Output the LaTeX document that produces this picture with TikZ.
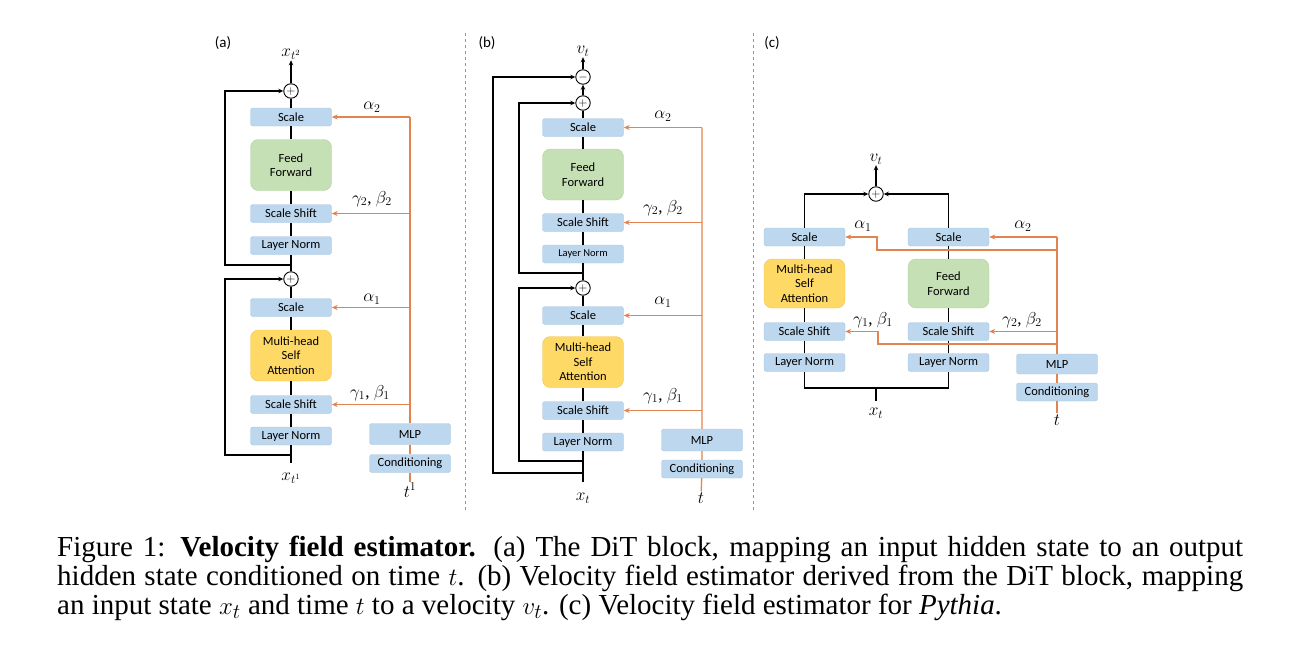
\documentclass[tikz,border=0pt]{standalone}
\usepackage{fontspec}
\setmainfont{Liberation Serif}
\setsansfont{Carlito}
\usetikzlibrary{arrows.meta}

\definecolor{boxfill}{HTML}{BDD7EE}
\definecolor{boxline}{HTML}{A6C4E0}
\definecolor{fffill}{HTML}{C5E0B4}
\definecolor{ffline}{HTML}{B2D29C}
\definecolor{safill}{HTML}{FFD966}
\definecolor{saline}{HTML}{F0C44C}
\definecolor{condline}{RGB}{226,132,80}
\definecolor{sepline}{RGB}{150,150,150}

\newcommand{\boxfont}{\sffamily\fontsize{12.5}{14.5}\selectfont}
\newcommand{\labfont}{\fontsize{17}{19}\selectfont}
\newcommand{\capfont}{\fontsize{29}{29}\selectfont}

\begin{document}
\begin{tikzpicture}
	[x=1pt,y=-1pt,
	box/.style={draw=boxline, fill=boxfill, rounded corners=2.5pt, minimum width=81pt, minimum height=18pt, inner sep=0pt, font=\boxfont},
	bigbox/.style={box, minimum height=51pt, rounded corners=8pt, align=center},
	ffbox/.style={bigbox, fill=fffill, draw=ffline},
	sabox/.style={bigbox, fill=safill, draw=saline},
	sumnode/.style={circle, draw, fill=white, line width=0.9pt, minimum size=14.5pt, inner sep=0pt, font=\fontsize{13}{13}\selectfont},
	lab/.style={font=\labfont, inner sep=1pt},
	panel/.style={font=\sffamily\fontsize{15}{17}\selectfont, inner sep=0pt},
	flow/.style={draw, line width=1.2pt},
	res/.style={draw, line width=1.2pt, -{Stealth[length=5pt,width=4.5pt]}},
	cond/.style={draw=condline, line width=1.3pt, -{Stealth[length=6pt,width=5pt]}},
	condline/.style={draw=condline, line width=1.3pt}]
	\useasboundingbox (0,0) rectangle (1300,661);
	
	% separators
	\draw[sepline, dashed] (465,33) -- (465,510);
	\draw[sepline, dashed] (753,33) -- (753,510);
	
	% (a) DiT block
	\node[panel] (a-lbl) at (223,43) {(a)};
	\node[lab] (a-out) at (291,54) {$x_{t^2}$};
	\node[sumnode] (a-add2) at (291,91) {$+$};
	\node[box] (a-scale2) at (291,117) {Scale};
	\node[ffbox] (a-ff) at (291,165) {Feed\\Forward};
	\node[box] (a-ss2) at (291,213.5) {Scale Shift};
	\node[box] (a-ln2) at (291,245.5) {Layer Norm};
	\node[sumnode] (a-add1) at (291,279) {$+$};
	\node[box] (a-scale1) at (291,307.5) {Scale};
	\node[sabox] (a-sa) at (291,355.5) {Multi-head\\Self\\Attention};
	\node[box] (a-ss1) at (291,404.5) {Scale Shift};
	\node[box] (a-ln1) at (291,436) {Layer Norm};
	\coordinate (a-bot) at (291,463);
	\coordinate (a-br1) at (291,455);
	\coordinate (a-br2) at (291,265);
	\node[lab] (a-in) at (291,478) {$x_{t^1}$};
	\node[box, minimum height=21pt] (a-mlp) at (410,434) {MLP};
	\node[box] (a-cond) at (410,463.5) {Conditioning};
	\node[lab] (a-t) at (410,490) {$t^1$};
	\coordinate (a-c2) at (410,117);
	\coordinate (a-c4) at (410,213.5);
	\coordinate (a-c1) at (410,307.5);
	\coordinate (a-c3) at (410,404.5);
	\node[lab] (a-alpha2) at (372,107) {$\alpha_2$};
	\node[lab] (a-gb2) at (372,199) {$\gamma_2$, $\beta_2$};
	\node[lab] (a-alpha1) at (372,299) {$\alpha_1$};
	\node[lab] (a-gb1) at (370,393) {$\gamma_1$, $\beta_1$};
	
	\foreach \from/\to in {a-bot/a-ln1,a-ln1/a-ss1,a-ss1/a-sa,a-sa/a-scale1,a-scale1/a-add1,a-add1/a-ln2,a-ln2/a-ss2,a-ss2/a-ff,a-ff/a-scale2,a-scale2/a-add2}
	\draw[flow] (\from) -- (\to);
	\draw[res] (a-add2) -- (a-out);
	\draw[res] (a-br1) -- ++(-66,0) |- (a-add1);
	\draw[res] (a-br2) -- ++(-66,0) |- (a-add2);
	\draw[condline] (a-t) -- (a-cond) -- (a-mlp) -- (a-c2);
	\foreach \from/\to in {a-c2/a-scale2,a-c4/a-ss2,a-c1/a-scale1,a-c3/a-ss1}
	\draw[cond] (\from) -- (\to);
	
	% (b) velocity field estimator from DiT
	\node[panel] (b-lbl) at (487,43) {(b)};
	\node[lab] (b-out) at (583,51) {$v_t$};
	\node[sumnode] (b-sub) at (583,77) {$-$};
	\node[sumnode] (b-add2) at (583,103) {$+$};
	\node[box] (b-scale2) at (583,127.5) {Scale};
	\node[ffbox] (b-ff) at (583,174.5) {Feed\\Forward};
	\node[box] (b-ss2) at (583,222.5) {Scale Shift};
	\node[box, font=\sffamily\fontsize{10.5}{12}\selectfont] (b-ln2) at (583,254) {Layer Norm};
	\node[sumnode] (b-add1) at (583,288) {$+$};
	\node[box] (b-scale1) at (583,315.5) {Scale};
	\node[sabox] (b-sa) at (583,362) {Multi-head\\Self\\Attention};
	\node[box] (b-ss1) at (583,410.5) {Scale Shift};
	\node[box] (b-ln1) at (583,442) {Layer Norm};
	\coordinate (b-bot) at (583,482);
	\coordinate (b-br0) at (583,473);
	\coordinate (b-br1) at (583,461);
	\coordinate (b-br2) at (583,273);
	\node[lab] (b-in) at (583,498) {$x_t$};
	\node[box, minimum height=22pt] (b-mlp) at (702,440) {MLP};
	\node[box] (b-cond) at (702,469) {Conditioning};
	\node[lab] (b-t) at (701,498) {$t$};
	\coordinate (b-c2) at (702,127.5);
	\coordinate (b-c4) at (702,222.5);
	\coordinate (b-c1) at (702,315.5);
	\coordinate (b-c3) at (702,410.5);
	\node[lab] (b-alpha2) at (663,116) {$\alpha_2$};
	\node[lab] (b-gb2) at (663,208) {$\gamma_2$, $\beta_2$};
	\node[lab] (b-alpha1) at (663,302) {$\alpha_1$};
	\node[lab] (b-gb1) at (663,396) {$\gamma_1$, $\beta_1$};
	
	\foreach \from/\to in {b-bot/b-ln1,b-ln1/b-ss1,b-ss1/b-sa,b-sa/b-scale1,b-scale1/b-add1,b-add1/b-ln2,b-ln2/b-ss2,b-ss2/b-ff,b-ff/b-scale2,b-scale2/b-add2}
	\draw[flow] (\from) -- (\to);
	\draw[res] (b-add2) -- (b-sub);
	\draw[res] (b-sub) -- (b-out);
	\draw[res] (b-br0) -- ++(-90,0) |- (b-sub);
	\draw[res] (b-br1) -- ++(-64,0) |- (b-add1);
	\draw[res] (b-br2) -- ++(-64,0) |- (b-add2);
	\draw[condline] (b-t) -- (b-cond) -- (b-mlp) -- (b-c2);
	\foreach \from/\to in {b-c2/b-scale2,b-c4/b-ss2,b-c1/b-scale1,b-c3/b-ss1}
	\draw[cond] (\from) -- (\to);
	
	% (c) velocity field estimator for Pythia
	\node[panel] (c-lbl) at (772,43) {(c)};
	\node[lab] (c-out) at (876,159) {$v_t$};
	\node[sumnode] (c-add) at (876,194) {$+$};
	\node[box] (c-scale1) at (804.5,237) {Scale};
	\node[sabox, minimum height=49pt] (c-sa) at (804.5,283.5) {Multi-head\\Self\\Attention};
	\node[box] (c-ss1) at (804.5,331.5) {Scale Shift};
	\node[box] (c-ln1) at (804.5,362.5) {Layer Norm};
	\node[box] (c-scale2) at (948.5,237) {Scale};
	\node[ffbox, minimum height=49pt] (c-ff) at (948.5,283.5) {Feed\\Forward};
	\node[box] (c-ss2) at (948.5,331.5) {Scale Shift};
	\node[box] (c-ln2) at (948.5,362.5) {Layer Norm};
	\coordinate (c-bl) at (804.5,388);
	\coordinate (c-bm) at (876,388);
	\coordinate (c-br) at (948.5,388);
	\coordinate (c-stem) at (876,401);
	\node[lab] (c-in) at (876,413) {$x_t$};
	\node[box, minimum height=20pt] (c-mlp) at (1057,364) {MLP};
	\node[box] (c-cond) at (1057,392) {Conditioning};
	\node[lab] (c-t) at (1057,420) {$t$};
	\coordinate (c-c2) at (1057,237);
	\coordinate (c-c1) at (1057,250);
	\coordinate (c-c4) at (1057,331.5);
	\coordinate (c-c3) at (1057,344);
	\node[lab] (c-alpha1) at (863,226) {$\alpha_1$};
	\node[lab] (c-alpha2) at (1023,226) {$\alpha_2$};
	\node[lab] (c-gb1) at (873,320) {$\gamma_1$, $\beta_1$};
	\node[lab] (c-gb2) at (1022,320) {$\gamma_2$, $\beta_2$};
	
	\foreach \from/\to in {c-ln1/c-ss1,c-ss1/c-sa,c-sa/c-scale1,c-ln2/c-ss2,c-ss2/c-ff,c-ff/c-scale2,c-bm/c-stem}
	\draw[flow] (\from) -- (\to);
	\draw[flow] (c-ln1) -- (c-bl) -- (c-br) -- (c-ln2);
	\draw[res] (c-scale1) |- (c-add);
	\draw[res] (c-scale2) |- (c-add);
	\draw[res] (c-add) -- (c-out);
	\draw[condline] (c-t) -- (c-cond) -- (c-mlp) -- (c-c2);
	\draw[cond] (c-c2) -- (c-scale2);
	\draw[cond] (c-c4) -- (c-ss2);
	\draw[cond] (c-c1) -- ++(-180,0) |- (c-scale1);
	\draw[cond] (c-c3) -- ++(-179,0) |- (c-ss1);
	
	% caption
	\node[anchor=base west, inner sep=0pt, font=\capfont] (cap1) at (57,556) {\makebox[1186pt][s]{Figure 1: \textbf{Velocity field estimator.} (a) The DiT block, mapping an input hidden state to an output}};
	\node[anchor=base west, inner sep=0pt, font=\capfont] (cap2) at (57,585) {\makebox[1186pt][s]{hidden state conditioned on time $t$. (b) Velocity field estimator derived from the DiT block, mapping}};
	\node[anchor=base west, inner sep=0pt, font=\capfont] (cap3) at (57,614) {an input state $x_t$ and time $t$ to a velocity $v_t$. (c) Velocity field estimator for \textit{Pythia}.};
\end{tikzpicture}
\end{document}
